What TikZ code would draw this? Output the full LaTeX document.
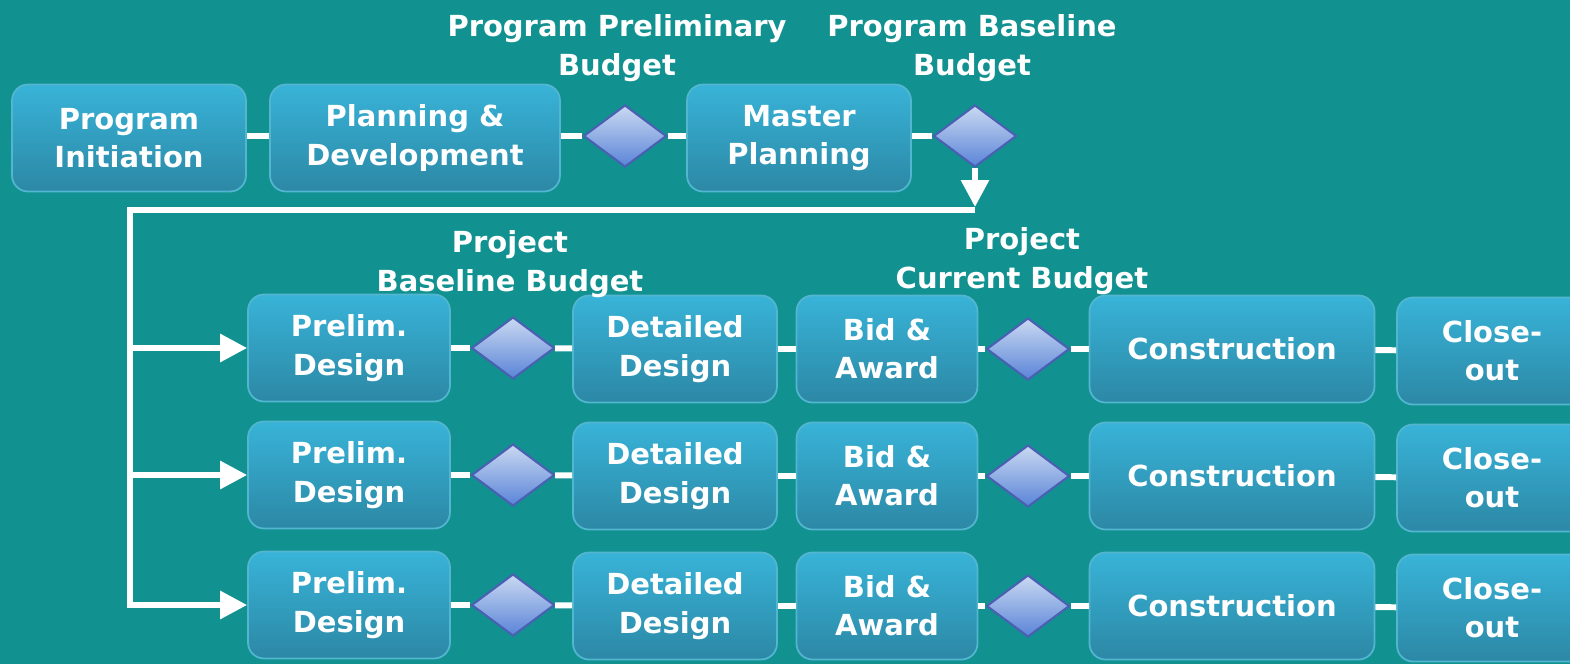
\documentclass[tikz,border=0pt]{standalone}
\usepackage{fontspec}
\setmainfont{DejaVu Sans}
\usetikzlibrary{arrows.meta,shapes.geometric,positioning}
\definecolor{bgteal}{HTML}{129191}
\definecolor{boxtop}{HTML}{38B3D8}
\definecolor{boxbot}{HTML}{2C88A5}
\definecolor{boxline}{HTML}{52B6D0}
\definecolor{diatop}{HTML}{CAD9F1}
\definecolor{diabot}{HTML}{5A84D8}
\definecolor{dialine}{HTML}{4A60B2}
\tikzstyle{phase}=[draw=boxline, line width=1pt, rounded corners=0.32cm, top color=boxtop, bottom color=boxbot, text=white, font=\bfseries\fontsize{16.5}{21.8}\selectfont, align=center, minimum height=2.14cm, inner sep=2pt]
\tikzstyle{gate}=[diamond, draw=dialine, line width=1.2pt, top color=diatop, bottom color=diabot, minimum width=1.66cm, minimum height=1.24cm, inner sep=0pt]
\tikzstyle{budget}=[text=white, font=\bfseries\fontsize{16.5}{21.8}\selectfont, align=center]
\tikzstyle{link}=[draw=white, line width=3.4pt]
\tikzstyle{flow}=[link, -{Triangle[length=0.54cm, width=0.54cm]}]

\begin{document}
\begin{tikzpicture}[x=0.02cm, y=-0.02cm]
    % background
    \fill[bgteal] (0,0) rectangle (1570,664);
    \clip (0,0) rectangle (1570,664);

    % program level
    \node[phase, minimum width=4.68cm] (init) at (129,138) {Program\\Initiation};
    \node[phase, minimum width=5.8cm] (plan) at (415,138) {Planning \&\\Development};
    \node[gate] (pgate1) at (625,136) {};
    \node[phase, minimum width=4.48cm] (master) at (799,138) {Master\\Planning};
    \node[gate] (pgate2) at (975,136) {};

    \foreach \pos/\name/\label in {{(617,48)/pbud1/Program Preliminary\\Budget}, {(972,48)/pbud2/Program Baseline\\Budget}}
        \node[budget] (\name) at \pos {\label};

    \foreach \source/\dest in {init/plan, plan/pgate1, pgate1/master, master/pgate2}
        \path[link] (\source.east |- pgate1.center) -- (\dest.west |- pgate1.center);

    % project level, one row per project
    \foreach \r/\y in {1/348, 2/475, 3/605} {
        \node[phase, minimum width=4.04cm] (pd\r) at (349,\y) {Prelim.\\Design};
        \node[gate] (ga\r) at (513,\y) {};
        \node[phase, minimum width=4.08cm] (dd\r) at (675,\y+1) {Detailed\\Design};
        \node[phase, minimum width=3.62cm] (ba\r) at (887,\y+1) {Bid \&\\Award};
        \node[gate] (gb\r) at (1028,\y+1) {};
        \node[phase, minimum width=5.7cm] (cn\r) at (1232,\y+1) {Construction};
        \node[phase, minimum width=3.8cm] (co\r) at (1492,\y+3) {Close-\\out};
        \foreach \source/\dest in {pd/ga, ga/dd, dd/ba, ba/gb, gb/cn, cn/co}
            \path[link] (\source\r) -- (\dest\r);
    }

    \foreach \pos/\name/\label in {{(510,264)/jbud1/Project\\Baseline Budget}, {(1022,261)/jbud2/Project\\Current Budget}}
        \node[budget] (\name) at \pos {\label};

    % split into projects
    \coordinate (split) at (975,210);
    \coordinate (corner) at (130,210);
    \draw[flow] (pgate2.south) -- ([yshift=0.06cm]split);
    \draw[flow] (split) -- (corner) -- (corner |- pd3.west) -- (pd3.west);
    \foreach \r in {1,2}
        \draw[flow] (corner |- pd\r.west) -- (pd\r.west);
\end{tikzpicture}
\end{document}
